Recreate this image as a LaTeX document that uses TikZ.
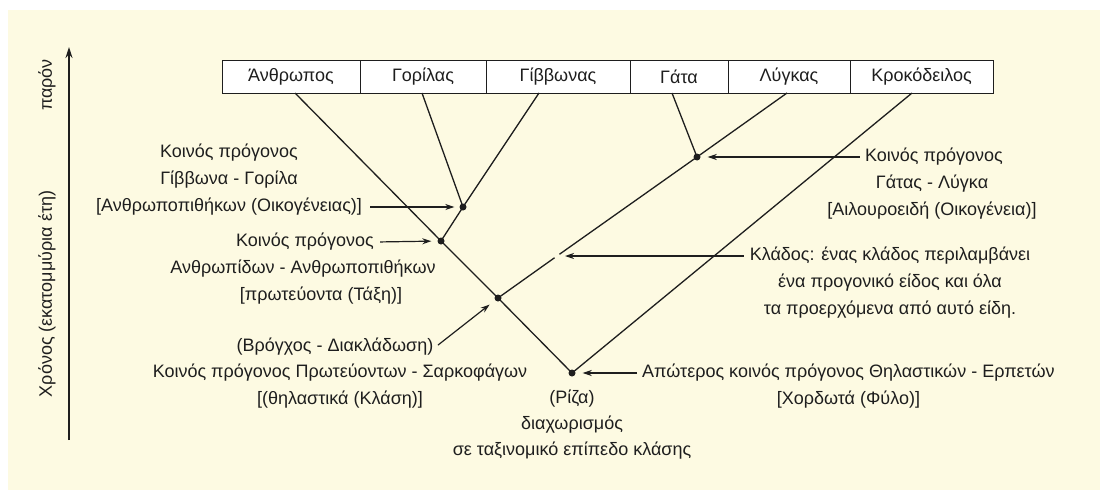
\documentclass[tikz,border=0pt]{standalone}
\usepackage{fontspec}
\setmainfont{Liberation Sans}
\usepackage{xcolor}
\usetikzlibrary{arrows.meta,positioning,calc}
\definecolor{PaperCream}{HTML}{FDFAE2}
\definecolor{InkGrey}{HTML}{1E1E1E}
\tikzset{
    % Base text style
    labeltext/.style={
        text=InkGrey,
        align=center,
        font=\fontsize{18}{27}\selectfont,
        inner sep=2pt
    },
    % Species cell of the top row
    taxoncell/.style={
        draw=InkGrey,
        fill=white,
        line width=1pt,
        outer sep=0pt,
        inner sep=0pt,
        minimum height=33pt,
        font=\fontsize{18}{22}\selectfont,
        text=InkGrey
    },
    % Tree branch
    branch/.style={
        draw=InkGrey,
        line width=1.3pt
    },
    % Common ancestor dot
    ancestor/.style={
        circle,
        fill=InkGrey,
        inner sep=0pt,
        minimum size=7pt
    },
    % Pointer arrow
    pointer/.style={
        -{Stealth[length=9pt,width=6pt]},
        line width=1.2pt,
        draw=InkGrey
    },
    % Time axis
    timeaxis/.style={
        -{Stealth[length=11pt,width=7pt]},
        line width=1.5pt,
        draw=InkGrey
    }
}

\begin{document}
\begin{tikzpicture}[x=1pt,y=-1pt]
        % Background
        \fill[white] (0,0) rectangle (1100,490);
        \fill[PaperCream] (8,10) rectangle (1100,490);
        \useasboundingbox (0,0) rectangle (1100,490);

        % Time axis
        \coordinate (tBottom) at (69,440);
        \coordinate (tTop) at (69,47);
        \draw[timeaxis] (tBottom) -- (tTop);
        \node[labeltext, rotate=90] (present) at (47,85) {παρόν};
        \node[labeltext, rotate=90] (timeLabel) at (47,294) {Χρόνος (εκατομμύρια έτη)};

        % Species row
        \node[taxoncell, minimum width=138pt, anchor=north west] (anthropos) at (222,60) {Άνθρωπος};
        \node[taxoncell, minimum width=126pt, right=0pt of anthropos] (gorilas) {Γορίλας};
        \node[taxoncell, minimum width=144pt, right=0pt of gorilas] (gibbonas) {Γίββωνας};
        \node[taxoncell, minimum width=98pt, right=0pt of gibbonas] (gata) {Γάτα};
        \node[taxoncell, minimum width=122pt, right=0pt of gata] (lygkas) {Λύγκας};
        \node[taxoncell, minimum width=143pt, right=0pt of lygkas] (krokodeilos) {Κροκόδειλος};

        % Branch tops
        \coordinate (hTop) at (295,93);
        \coordinate (gorTop) at (422,93);
        \coordinate (gibTop) at (539,93);
        \coordinate (gatTop) at (672,93);
        \coordinate (lynTop) at (787,93);
        \coordinate (croTop) at (912,93);

        % Common ancestors
        \node[ancestor] (root) at (572,373) {};
        \node[ancestor] (pc) at (498,298) {};
        \node[ancestor] (ah) at (441,241) {};
        \node[ancestor] (gg) at (463,207) {};
        \node[ancestor] (cl) at (697,157) {};
        \coordinate (cladePt) at (557,256);
        \coordinate (gapHigh) at ($(cladePt)!3pt!(cl)$);
        \coordinate (gapLow) at ($(cladePt)!3pt!(pc)$);

        % Branches
        \draw[branch] (hTop) -- (ah.center) -- (pc.center) -- (root.center);
        \draw[branch] (croTop) -- (root.center);
        \draw[branch] (lynTop) -- (cl.center) -- (gapHigh);
        \draw[branch] (gapLow) -- (pc.center);
        \draw[branch] (gatTop) -- (cl.center);
        \draw[branch] (gibTop) -- (gg.center) -- (ah.center);
        \draw[branch] (gorTop) -- (gg.center);

        % Labels on the left
        \node[labeltext] (ggText) at (229,180) {Κοινός πρόγονος\\Γίββωνα - Γορίλα\\{}[Ανθρωποπιθήκων (Οικογένειας)]};
        \draw[pointer, shorten <=6pt, shorten >=5pt] (ggText.east |- gg) -- (gg);
        \node[labeltext] (ahTop) at (305,242) {Κοινός πρόγονος};
        \draw[pointer, shorten <=4pt, shorten >=6pt] (ahTop.east) -- (ah);
        \node[labeltext] (ahMid) at (303,269) {Ανθρωπίδων - Ανθρωποπιθήκων};
        \node[labeltext] (ahLow) at (321,296) {[πρωτεύοντα (Τάξη)]};
        \node[labeltext] (brText) at (335,347) {(Βρόγχος - Διακλάδωση)};
        \draw[pointer, shorten <=3pt, shorten >=7pt] (brText.east) -- (pc);
        \node[labeltext] (pcText) at (340,386) {Κοινός πρόγονος Πρωτεύοντων - Σαρκοφάγων\\{}[(θηλαστικά (Κλάση)]};

        % Root
        \node[labeltext, font=\fontsize{18}{26}\selectfont] (rootText) at (572,425) {(Ρίζα)\\διαχωρισμός\\σε ταξινομικό επίπεδο κλάσης};
        \node[labeltext, anchor=west] (rootNote) at (640,386) {Απώτερος κοινός πρόγονος Θηλαστικών - Ερπετών\\{}[Χορδωτά (Φύλο)]};
        \draw[pointer, shorten <=3pt, shorten >=7pt] (rootNote.west |- root) -- (root);

        % Labels on the right
        \node[labeltext] (clTop) at (934,157) {Κοινός πρόγονος};
        \draw[pointer, shorten <=3pt, shorten >=7pt] (clTop.west) -- (cl);
        \node[labeltext] (clText) at (932,197.5) {Γάτας - Λύγκα\\{}[Αιλουροειδή (Οικογένεια)]};
        \node[labeltext] (cladeText) at (890,283) {Κλάδος: ένας κλάδος περιλαμβάνει\\ένα προγονικό είδος και όλα\\τα προερχόμενα από αυτό είδη.};
        \draw[pointer, shorten <=4pt, shorten >=8pt] (cladeText.west |- cladePt) -- (cladePt);
    \end{tikzpicture}
\end{document}
